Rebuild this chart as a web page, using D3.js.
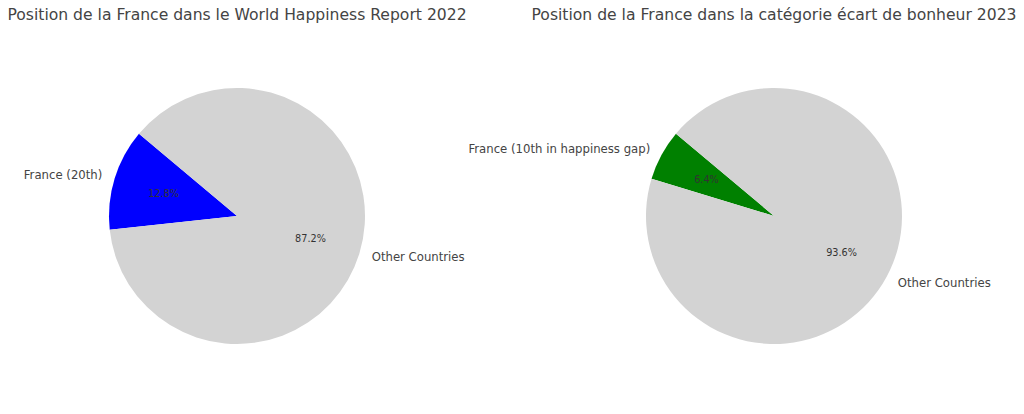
<!DOCTYPE html>
<html><head><meta charset="utf-8">
<script src="https://cdn.jsdelivr.net/npm/d3@7"></script>
<style>body{margin:0;background:#fff}svg{display:block}</style>
</head><body>
<script>
const titles = ["Position de la France dans le World Happiness Report 2022",
                "Position de la France dans la catégorie écart de bonheur 2023"];
const labels1 = ["France (20th)", "Other Countries"];
const values1 = [20, 136];
const colors1 = ["#0000ff", "#d3d3d3"];
const labels2 = ["France (10th in happiness gap)", "Other Countries"];
const values2 = [10, 146];
const colors2 = ["#008000", "#d3d3d3"];

const W = 1024, H = 414;
const svg = d3.select("body").append("svg").attr("width", W).attr("height", H);
const R = 128;
const textColor = "#444";
const font = "DejaVu Sans, sans-serif";

function drawPie(cx, cy, title, labels, values, colors) {
  const g = svg.append("g").attr("transform", `translate(${cx},${cy})`);
  const start = (90 - 140) * Math.PI / 180;
  const pie = d3.pie().sort(null).value(d => d.v).startAngle(start).endAngle(start - 2 * Math.PI);
  const data = labels.map((l, i) => ({ l, v: values[i], c: colors[i] }));
  const arcs = pie(data);
  const total = d3.sum(values);
  const arc = d3.arc().innerRadius(0).outerRadius(R);
  g.selectAll("path.w").data(arcs).join("path").attr("class", "w")
    .attr("d", arc).attr("fill", d => d.data.c);
  const labArc = d3.arc().innerRadius(R * 1.1).outerRadius(R * 1.1);
  g.selectAll("text.lab").data(arcs).join("text").attr("class", "lab")
    .attr("x", d => labArc.centroid(d)[0]).attr("y", d => labArc.centroid(d)[1])
    .attr("text-anchor", d => labArc.centroid(d)[0] > 0 ? "start" : "end")
    .attr("dominant-baseline", "central")
    .attr("font-family", font).attr("font-size", 11.7).attr("fill", textColor)
    .text(d => d.data.l);
  const pctArc = d3.arc().innerRadius(R * 0.6).outerRadius(R * 0.6);
  g.selectAll("text.pct").data(arcs).join("text").attr("class", "pct")
    .attr("x", d => pctArc.centroid(d)[0]).attr("y", d => pctArc.centroid(d)[1])
    .attr("text-anchor", "middle").attr("dominant-baseline", "central")
    .attr("font-family", font).attr("font-size", 9.7).attr("fill", "#333")
    .text(d => (d.data.v / total * 100).toFixed(1) + "%");
  svg.append("text").attr("x", cx).attr("y", 15).attr("text-anchor", "middle")
    .attr("dominant-baseline", "central")
    .attr("font-family", font).attr("font-size", 15.6).attr("fill", textColor)
    .text(title);
}
drawPie(237, 216, titles[0], labels1, values1, colors1);
drawPie(774, 216, titles[1], labels2, values2, colors2);
</script>
</body></html>
